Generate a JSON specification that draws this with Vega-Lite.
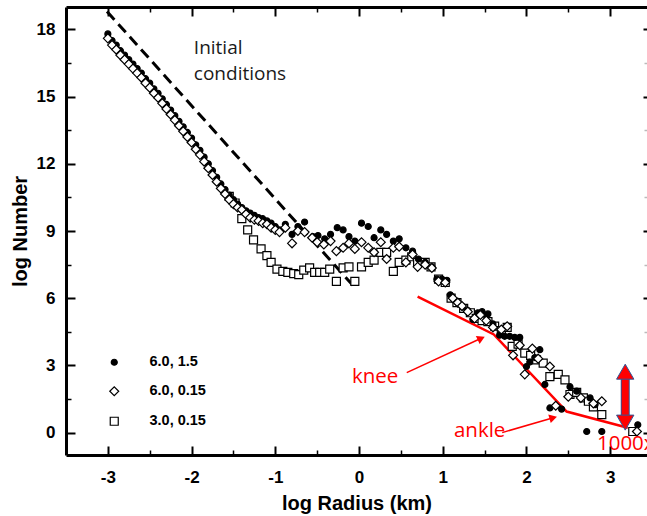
{
  "$schema": "https://vega.github.io/schema/vega-lite/v6.json",
  "autosize": {"type": "none"},
  "width": 581,
  "height": 448,
  "padding": {"left": 66, "top": 7, "right": 0, "bottom": 61},
  "background": "white",
  "config": {"view": {"stroke": null}, "font": "Liberation Sans"},
  "resolve": {"axis": {"x": "independent", "y": "independent"}},
  "datasets": {
    "pts": [
      {"s":"3.0, 0.15","x":-1.55,"y":10.55},{"s":"3.0, 0.15","x":-1.48,"y":10.25},{"s":"3.0, 0.15","x":-1.40,"y":9.55},{"s":"3.0, 0.15","x":-1.33,"y":9.05},{"s":"3.0, 0.15","x":-1.26,"y":8.60},{"s":"3.0, 0.15","x":-1.17,"y":8.20},{"s":"3.0, 0.15","x":-1.10,"y":7.90},{"s":"3.0, 0.15","x":-1.05,"y":7.60},{"s":"3.0, 0.15","x":-0.98,"y":7.30},{"s":"3.0, 0.15","x":-0.91,"y":7.20},{"s":"3.0, 0.15","x":-0.85,"y":7.15},{"s":"3.0, 0.15","x":-0.78,"y":7.10},{"s":"3.0, 0.15","x":-0.72,"y":7.05},{"s":"3.0, 0.15","x":-0.66,"y":7.25},{"s":"3.0, 0.15","x":-0.59,"y":7.35},{"s":"3.0, 0.15","x":-0.53,"y":7.15},{"s":"3.0, 0.15","x":-0.47,"y":7.15},{"s":"3.0, 0.15","x":-0.41,"y":7.15},{"s":"3.0, 0.15","x":-0.35,"y":7.30},{"s":"3.0, 0.15","x":-0.27,"y":6.75},{"s":"3.0, 0.15","x":-0.19,"y":7.35},{"s":"3.0, 0.15","x":-0.12,"y":7.40},{"s":"3.0, 0.15","x":-0.05,"y":6.75},{"s":"3.0, 0.15","x":0.03,"y":7.40},{"s":"3.0, 0.15","x":0.11,"y":7.60},{"s":"3.0, 0.15","x":0.18,"y":7.70},{"s":"3.0, 0.15","x":0.26,"y":8.05},{"s":"3.0, 0.15","x":0.33,"y":8.05},{"s":"3.0, 0.15","x":0.41,"y":7.20},{"s":"3.0, 0.15","x":0.48,"y":7.60},{"s":"3.0, 0.15","x":0.56,"y":7.70},{"s":"3.0, 0.15","x":0.63,"y":7.85},{"s":"3.0, 0.15","x":0.70,"y":7.60},{"s":"3.0, 0.15","x":0.79,"y":7.60},{"s":"3.0, 0.15","x":0.86,"y":7.40},{"s":"3.0, 0.15","x":0.95,"y":6.85},{"s":"3.0, 0.15","x":1.03,"y":6.70},{"s":"3.0, 0.15","x":1.10,"y":6.00},{"s":"3.0, 0.15","x":1.17,"y":5.80},{"s":"3.0, 0.15","x":1.25,"y":5.55},{"s":"3.0, 0.15","x":1.33,"y":5.35},{"s":"3.0, 0.15","x":1.40,"y":5.10},{"s":"3.0, 0.15","x":1.47,"y":5.00},{"s":"3.0, 0.15","x":1.54,"y":4.95},{"s":"3.0, 0.15","x":1.62,"y":4.75},{"s":"3.0, 0.15","x":1.70,"y":4.55},{"s":"3.0, 0.15","x":1.77,"y":4.70},{"s":"3.0, 0.15","x":1.83,"y":3.85},{"s":"3.0, 0.15","x":1.90,"y":3.95},{"s":"3.0, 0.15","x":1.98,"y":3.55},{"s":"3.0, 0.15","x":2.05,"y":3.45},{"s":"3.0, 0.15","x":2.12,"y":3.25},{"s":"3.0, 0.15","x":2.20,"y":3.10},{"s":"3.0, 0.15","x":2.28,"y":2.50},{"s":"3.0, 0.15","x":2.38,"y":2.60},{"s":"3.0, 0.15","x":2.46,"y":2.35},{"s":"3.0, 0.15","x":2.52,"y":1.70},{"s":"3.0, 0.15","x":2.60,"y":1.80},{"s":"3.0, 0.15","x":2.68,"y":1.55},{"s":"3.0, 0.15","x":2.74,"y":1.40},{"s":"3.0, 0.15","x":2.80,"y":1.15},{"s":"3.0, 0.15","x":2.90,"y":0.80},{"s":"3.0, 0.15","x":3.27,"y":0.05},
      {"s":"6.0, 1.5","x":-3.00,"y":17.80},{"s":"6.0, 1.5","x":-2.95,"y":17.50},{"s":"6.0, 1.5","x":-2.90,"y":17.30},{"s":"6.0, 1.5","x":-2.85,"y":17.05},{"s":"6.0, 1.5","x":-2.80,"y":16.85},{"s":"6.0, 1.5","x":-2.75,"y":16.65},{"s":"6.0, 1.5","x":-2.70,"y":16.45},{"s":"6.0, 1.5","x":-2.65,"y":16.25},{"s":"6.0, 1.5","x":-2.60,"y":16.05},{"s":"6.0, 1.5","x":-2.55,"y":15.80},{"s":"6.0, 1.5","x":-2.50,"y":15.60},{"s":"6.0, 1.5","x":-2.45,"y":15.35},{"s":"6.0, 1.5","x":-2.40,"y":15.15},{"s":"6.0, 1.5","x":-2.35,"y":14.90},{"s":"6.0, 1.5","x":-2.30,"y":14.65},{"s":"6.0, 1.5","x":-2.25,"y":14.40},{"s":"6.0, 1.5","x":-2.20,"y":14.15},{"s":"6.0, 1.5","x":-2.15,"y":13.90},{"s":"6.0, 1.5","x":-2.10,"y":13.65},{"s":"6.0, 1.5","x":-2.05,"y":13.40},{"s":"6.0, 1.5","x":-2.00,"y":13.15},{"s":"6.0, 1.5","x":-1.95,"y":12.85},{"s":"6.0, 1.5","x":-1.90,"y":12.60},{"s":"6.0, 1.5","x":-1.85,"y":12.30},{"s":"6.0, 1.5","x":-1.80,"y":12.00},{"s":"6.0, 1.5","x":-1.75,"y":11.70},{"s":"6.0, 1.5","x":-1.70,"y":11.40},{"s":"6.0, 1.5","x":-1.65,"y":11.10},{"s":"6.0, 1.5","x":-1.60,"y":10.85},{"s":"6.0, 1.5","x":-1.55,"y":10.60},{"s":"6.0, 1.5","x":-1.50,"y":10.40},{"s":"6.0, 1.5","x":-1.45,"y":10.20},{"s":"6.0, 1.5","x":-1.40,"y":10.05},{"s":"6.0, 1.5","x":-1.35,"y":9.90},{"s":"6.0, 1.5","x":-1.30,"y":9.80},{"s":"6.0, 1.5","x":-1.25,"y":9.70},{"s":"6.0, 1.5","x":-1.20,"y":9.60},{"s":"6.0, 1.5","x":-1.15,"y":9.55},{"s":"6.0, 1.5","x":-1.10,"y":9.45},{"s":"6.0, 1.5","x":-1.05,"y":9.35},{"s":"6.0, 1.5","x":-1.00,"y":9.20},{"s":"6.0, 1.5","x":-0.95,"y":9.05},{"s":"6.0, 1.5","x":-0.88,"y":9.30},{"s":"6.0, 1.5","x":-0.80,"y":8.85},{"s":"6.0, 1.5","x":-0.73,"y":9.20},{"s":"6.0, 1.5","x":-0.65,"y":9.40},{"s":"6.0, 1.5","x":-0.55,"y":8.75},{"s":"6.0, 1.5","x":-0.49,"y":8.80},{"s":"6.0, 1.5","x":-0.41,"y":8.65},{"s":"6.0, 1.5","x":-0.34,"y":8.85},{"s":"6.0, 1.5","x":-0.26,"y":9.15},{"s":"6.0, 1.5","x":-0.19,"y":9.05},{"s":"6.0, 1.5","x":-0.12,"y":8.75},{"s":"6.0, 1.5","x":-0.05,"y":8.55},{"s":"6.0, 1.5","x":0.03,"y":9.35},{"s":"6.0, 1.5","x":0.11,"y":9.20},{"s":"6.0, 1.5","x":0.18,"y":8.70},{"s":"6.0, 1.5","x":0.26,"y":9.05},{"s":"6.0, 1.5","x":0.33,"y":8.85},{"s":"6.0, 1.5","x":0.41,"y":8.55},{"s":"6.0, 1.5","x":0.48,"y":8.65},{"s":"6.0, 1.5","x":0.56,"y":8.25},{"s":"6.0, 1.5","x":0.64,"y":8.10},{"s":"6.0, 1.5","x":0.71,"y":7.75},{"s":"6.0, 1.5","x":0.79,"y":7.60},{"s":"6.0, 1.5","x":0.87,"y":7.40},{"s":"6.0, 1.5","x":0.93,"y":6.85},{"s":"6.0, 1.5","x":0.99,"y":6.85},{"s":"6.0, 1.5","x":1.05,"y":6.80},{"s":"6.0, 1.5","x":1.09,"y":6.15},{"s":"6.0, 1.5","x":1.13,"y":5.95},{"s":"6.0, 1.5","x":1.18,"y":5.80},{"s":"6.0, 1.5","x":1.24,"y":5.60},{"s":"6.0, 1.5","x":1.30,"y":5.45},{"s":"6.0, 1.5","x":1.36,"y":5.05},{"s":"6.0, 1.5","x":1.42,"y":5.35},{"s":"6.0, 1.5","x":1.47,"y":5.40},{"s":"6.0, 1.5","x":1.54,"y":5.30},{"s":"6.0, 1.5","x":1.60,"y":4.85},{"s":"6.0, 1.5","x":1.68,"y":4.35},{"s":"6.0, 1.5","x":1.74,"y":4.30},{"s":"6.0, 1.5","x":1.80,"y":4.30},{"s":"6.0, 1.5","x":1.86,"y":4.25},{"s":"6.0, 1.5","x":1.92,"y":4.25},{"s":"6.0, 1.5","x":2.00,"y":2.95},{"s":"6.0, 1.5","x":2.04,"y":3.15},{"s":"6.0, 1.5","x":2.10,"y":3.35},{"s":"6.0, 1.5","x":2.16,"y":3.70},{"s":"6.0, 1.5","x":2.22,"y":2.15},{"s":"6.0, 1.5","x":2.28,"y":1.10},{"s":"6.0, 1.5","x":2.42,"y":1.05},{"s":"6.0, 1.5","x":2.52,"y":2.05},{"s":"6.0, 1.5","x":2.60,"y":1.85},{"s":"6.0, 1.5","x":2.72,"y":0.05},{"s":"6.0, 1.5","x":2.76,"y":1.55},{"s":"6.0, 1.5","x":2.82,"y":1.25},{"s":"6.0, 1.5","x":2.90,"y":0.05},{"s":"6.0, 1.5","x":3.33,"y":0.35},
      {"s":"6.0, 0.15","x":-3.00,"y":17.60},{"s":"6.0, 0.15","x":-2.95,"y":17.30},{"s":"6.0, 0.15","x":-2.90,"y":17.10},{"s":"6.0, 0.15","x":-2.85,"y":16.85},{"s":"6.0, 0.15","x":-2.80,"y":16.65},{"s":"6.0, 0.15","x":-2.75,"y":16.45},{"s":"6.0, 0.15","x":-2.70,"y":16.25},{"s":"6.0, 0.15","x":-2.65,"y":16.05},{"s":"6.0, 0.15","x":-2.60,"y":15.85},{"s":"6.0, 0.15","x":-2.55,"y":15.60},{"s":"6.0, 0.15","x":-2.50,"y":15.40},{"s":"6.0, 0.15","x":-2.45,"y":15.15},{"s":"6.0, 0.15","x":-2.40,"y":14.95},{"s":"6.0, 0.15","x":-2.35,"y":14.70},{"s":"6.0, 0.15","x":-2.30,"y":14.45},{"s":"6.0, 0.15","x":-2.25,"y":14.20},{"s":"6.0, 0.15","x":-2.20,"y":13.95},{"s":"6.0, 0.15","x":-2.15,"y":13.70},{"s":"6.0, 0.15","x":-2.10,"y":13.45},{"s":"6.0, 0.15","x":-2.05,"y":13.20},{"s":"6.0, 0.15","x":-2.00,"y":12.95},{"s":"6.0, 0.15","x":-1.95,"y":12.65},{"s":"6.0, 0.15","x":-1.90,"y":12.40},{"s":"6.0, 0.15","x":-1.85,"y":12.10},{"s":"6.0, 0.15","x":-1.80,"y":11.80},{"s":"6.0, 0.15","x":-1.75,"y":11.50},{"s":"6.0, 0.15","x":-1.70,"y":11.20},{"s":"6.0, 0.15","x":-1.65,"y":10.90},{"s":"6.0, 0.15","x":-1.60,"y":10.65},{"s":"6.0, 0.15","x":-1.55,"y":10.40},{"s":"6.0, 0.15","x":-1.50,"y":10.20},{"s":"6.0, 0.15","x":-1.45,"y":10.05},{"s":"6.0, 0.15","x":-1.40,"y":9.95},{"s":"6.0, 0.15","x":-1.35,"y":9.75},{"s":"6.0, 0.15","x":-1.30,"y":9.60},{"s":"6.0, 0.15","x":-1.25,"y":9.50},{"s":"6.0, 0.15","x":-1.20,"y":9.45},{"s":"6.0, 0.15","x":-1.15,"y":9.35},{"s":"6.0, 0.15","x":-1.10,"y":9.30},{"s":"6.0, 0.15","x":-1.05,"y":9.15},{"s":"6.0, 0.15","x":-1.00,"y":9.05},{"s":"6.0, 0.15","x":-0.95,"y":8.95},{"s":"6.0, 0.15","x":-0.88,"y":9.15},{"s":"6.0, 0.15","x":-0.80,"y":8.45},{"s":"6.0, 0.15","x":-0.73,"y":9.00},{"s":"6.0, 0.15","x":-0.65,"y":8.95},{"s":"6.0, 0.15","x":-0.56,"y":8.70},{"s":"6.0, 0.15","x":-0.50,"y":8.50},{"s":"6.0, 0.15","x":-0.42,"y":8.40},{"s":"6.0, 0.15","x":-0.34,"y":8.55},{"s":"6.0, 0.15","x":-0.27,"y":8.10},{"s":"6.0, 0.15","x":-0.19,"y":8.25},{"s":"6.0, 0.15","x":-0.12,"y":8.45},{"s":"6.0, 0.15","x":-0.05,"y":8.20},{"s":"6.0, 0.15","x":0.03,"y":8.50},{"s":"6.0, 0.15","x":0.11,"y":8.25},{"s":"6.0, 0.15","x":0.18,"y":8.05},{"s":"6.0, 0.15","x":0.26,"y":8.50},{"s":"6.0, 0.15","x":0.33,"y":7.75},{"s":"6.0, 0.15","x":0.41,"y":8.25},{"s":"6.0, 0.15","x":0.48,"y":8.30},{"s":"6.0, 0.15","x":0.56,"y":7.60},{"s":"6.0, 0.15","x":0.64,"y":7.95},{"s":"6.0, 0.15","x":0.70,"y":7.40},{"s":"6.0, 0.15","x":0.79,"y":7.50},{"s":"6.0, 0.15","x":0.87,"y":7.35},{"s":"6.0, 0.15","x":0.95,"y":6.75},{"s":"6.0, 0.15","x":1.03,"y":6.70},{"s":"6.0, 0.15","x":1.12,"y":6.00},{"s":"6.0, 0.15","x":1.18,"y":5.80},{"s":"6.0, 0.15","x":1.23,"y":5.65},{"s":"6.0, 0.15","x":1.30,"y":5.40},{"s":"6.0, 0.15","x":1.38,"y":5.10},{"s":"6.0, 0.15","x":1.45,"y":5.25},{"s":"6.0, 0.15","x":1.52,"y":5.00},{"s":"6.0, 0.15","x":1.60,"y":4.70},{"s":"6.0, 0.15","x":1.70,"y":4.60},{"s":"6.0, 0.15","x":1.77,"y":4.75},{"s":"6.0, 0.15","x":1.84,"y":3.45},{"s":"6.0, 0.15","x":1.92,"y":3.90},{"s":"6.0, 0.15","x":1.98,"y":2.60},{"s":"6.0, 0.15","x":2.07,"y":3.75},{"s":"6.0, 0.15","x":2.14,"y":3.30},{"s":"6.0, 0.15","x":2.28,"y":2.95},{"s":"6.0, 0.15","x":2.35,"y":1.20},{"s":"6.0, 0.15","x":2.50,"y":1.60},{"s":"6.0, 0.15","x":2.65,"y":1.55},{"s":"6.0, 0.15","x":2.80,"y":1.30},{"s":"6.0, 0.15","x":2.90,"y":1.40},{"s":"6.0, 0.15","x":3.32,"y":0.05}
    ],
    "dash": [{"x": -3.01, "y": 18.8}, {"x": -0.07, "y": 6.56}],
    "red": [{"x": 0.70, "y": 6.07}, {"x": 1.61, "y": 4.38}, {"x": 2.48, "y": 0.94}, {"x": 3.21, "y": 0.22}],
    "shafts": [{"x": 0.57, "y": 2.68, "x2": 1.46, "y2": 4.21}, {"x": 1.71, "y": 0.0, "x2": 2.32, "y2": 0.665}],
    "kneehead": [{"x": 1.46, "y": 4.21}],
    "anklehead": [{"x": 2.32, "y": 0.665}],
    "bar": [{"x": 3.18, "y": 0.49, "y2": 2.455}],
    "uphead": [{"x": 3.18, "y": 2.72}],
    "downhead": [{"x": 3.18, "y": 0.446}],
    "redtext": [{"x": -0.085, "y": 2.23, "t": "knee"}, {"x": 1.134, "y": -0.18, "t": "ankle"}, {"x": 2.842, "y": -0.76, "t": "1000x"}],
    "blacktext": [{"x": -1.973, "y": 16.92, "t": "Initial"}, {"x": -1.973, "y": 15.76, "t": "conditions"}]
  },
  "layer": [
    {
      "data": {"name": "dash"},
      "mark": {"type": "line", "color": "black", "strokeWidth": 3, "strokeDash": [11, 6]},
      "encoding": {
        "x": {"field": "x", "type": "quantitative", "scale": {"domain": [-3.5, 3.44], "nice": false, "zero": false},
          "axis": {"orient": "top", "values": [-3, -2, -1, 0, 1, 2, 3], "labels": false, "title": null, "grid": false, "tickSize": -9, "tickWidth": 2, "tickColor": "black", "domainWidth": 3, "domainColor": "black"}},
        "y": {"field": "y", "type": "quantitative", "scale": {"domain": [-1, 19], "nice": false, "zero": false},
          "axis": {"orient": "right", "values": [0, 3, 6, 9, 12, 15, 18], "labels": false, "title": null, "grid": false, "domain": false, "tickSize": -4, "tickWidth": 2, "tickColor": "black"}}
      }
    },
    {
      "data": {"name": "red"},
      "mark": {"type": "line", "color": "#ff0000", "strokeWidth": 2.5},
      "encoding": {
        "x": {"field": "x", "type": "quantitative", "scale": {"domain": [-3.5, 3.44], "nice": false, "zero": false},
          "axis": {"orient": "bottom", "values": [-2.5, -1.5, -0.5, 0.5, 1.5, 2.5], "labels": false, "title": null, "grid": false, "domain": false, "tickSize": -5, "tickWidth": 1.5, "tickColor": "black"}},
        "y": {"field": "y", "type": "quantitative", "scale": {"domain": [-1, 19], "nice": false, "zero": false},
          "axis": {"orient": "left", "values": [1.5, 4.5, 7.5, 10.5, 13.5, 16.5], "labels": false, "title": null, "grid": false, "domain": false, "tickSize": -5, "tickWidth": 1.5, "tickColor": "black"}}
      }
    },
    {
      "data": {"name": "shafts"},
      "mark": {"type": "rule", "color": "#ff0000", "strokeWidth": 1.5},
      "encoding": {
        "x": {"field": "x", "type": "quantitative", "scale": {"domain": [-3.5, 3.44], "nice": false, "zero": false},
          "axis": {"orient": "top", "values": [-2.5, -1.5, -0.5, 0.5, 1.5, 2.5], "labels": false, "title": null, "grid": false, "domain": false, "tickSize": -5, "tickWidth": 1.5, "tickColor": "black"}},
        "y": {"field": "y", "type": "quantitative", "scale": {"domain": [-1, 19], "nice": false, "zero": false},
          "axis": {"orient": "right", "values": [1.5, 4.5, 7.5, 10.5, 13.5, 16.5], "labels": false, "title": null, "grid": false, "domain": false, "tickSize": -3, "tickWidth": 1.5, "tickColor": "#bbbbbb"}},
        "x2": {"field": "x2"},
        "y2": {"field": "y2"}
      }
    },
    {
      "data": {"name": "kneehead"},
      "mark": {"type": "point", "shape": "triangle-up", "filled": true, "color": "#ff0000", "opacity": 1, "size": 80, "angle": 65},
      "encoding": {
        "x": {"field": "x", "type": "quantitative", "scale": {"domain": [-3.5, 3.44], "nice": false, "zero": false}, "axis": null},
        "y": {"field": "y", "type": "quantitative", "scale": {"domain": [-1, 19], "nice": false, "zero": false}, "axis": null}
      }
    },
    {
      "data": {"name": "anklehead"},
      "mark": {"type": "point", "shape": "triangle-up", "filled": true, "color": "#ff0000", "opacity": 1, "size": 80, "angle": 74},
      "encoding": {
        "x": {"field": "x", "type": "quantitative", "scale": {"domain": [-3.5, 3.44], "nice": false, "zero": false}, "axis": null},
        "y": {"field": "y", "type": "quantitative", "scale": {"domain": [-1, 19], "nice": false, "zero": false}, "axis": null}
      }
    },
    {
      "data": {"name": "bar"},
      "mark": {"type": "rule", "color": "#2f5597", "strokeWidth": 9},
      "encoding": {
        "x": {"field": "x", "type": "quantitative", "scale": {"domain": [-3.5, 3.44], "nice": false, "zero": false}, "axis": null},
        "y": {"field": "y", "type": "quantitative", "scale": {"domain": [-1, 19], "nice": false, "zero": false}, "axis": null},
        "y2": {"field": "y2"}
      }
    },
    {
      "data": {"name": "bar"},
      "mark": {"type": "rule", "color": "#ff0000", "strokeWidth": 7},
      "encoding": {
        "x": {"field": "x", "type": "quantitative", "scale": {"domain": [-3.5, 3.44], "nice": false, "zero": false}, "axis": null},
        "y": {"field": "y", "type": "quantitative", "scale": {"domain": [-1, 19], "nice": false, "zero": false}, "axis": null},
        "y2": {"field": "y2"}
      }
    },
    {
      "data": {"name": "uphead"},
      "mark": {"type": "point", "shape": "triangle-up", "filled": true, "fill": "#ff0000", "stroke": "#2f5597", "strokeWidth": 1, "opacity": 1, "size": 300},
      "encoding": {
        "x": {"field": "x", "type": "quantitative", "scale": {"domain": [-3.5, 3.44], "nice": false, "zero": false}, "axis": null},
        "y": {"field": "y", "type": "quantitative", "scale": {"domain": [-1, 19], "nice": false, "zero": false}, "axis": null}
      }
    },
    {
      "data": {"name": "downhead"},
      "mark": {"type": "point", "shape": "triangle-down", "filled": true, "fill": "#ff0000", "stroke": "#2f5597", "strokeWidth": 1, "opacity": 1, "size": 300},
      "encoding": {
        "x": {"field": "x", "type": "quantitative", "scale": {"domain": [-3.5, 3.44], "nice": false, "zero": false}, "axis": null},
        "y": {"field": "y", "type": "quantitative", "scale": {"domain": [-1, 19], "nice": false, "zero": false}, "axis": null}
      }
    },
    {
      "data": {"name": "pts"},
      "mark": {"type": "point", "filled": true, "stroke": "black", "strokeWidth": 1.2, "opacity": 1},
      "encoding": {
        "x": {"field": "x", "type": "quantitative", "scale": {"domain": [-3.5, 3.44], "nice": false, "zero": false},
          "axis": {"orient": "bottom", "values": [-3, -2, -1, 0, 1, 2, 3], "title": "log Radius (km)", "grid": false,
            "tickSize": -9, "tickWidth": 2, "tickColor": "black", "domainWidth": 3, "domainColor": "black",
            "labelPadding": 23, "labelFont": "Liberation Sans", "labelFontWeight": "bold", "labelFontSize": 17, "labelColor": "black",
            "labelExpr": "replace(datum.label, '\u2212', '-')", "labelFlush": false, "labelOverlap": false,
            "titleFont": "Liberation Sans", "titleFontWeight": "bold", "titleFontSize": 20, "titleColor": "black", "titlePadding": 8}},
        "y": {"field": "y", "type": "quantitative", "scale": {"domain": [-1, 19], "nice": false, "zero": false},
          "axis": {"orient": "left", "values": [0, 3, 6, 9, 12, 15, 18], "title": "log Number", "grid": false,
            "tickSize": -9, "tickWidth": 2, "tickColor": "black", "domainWidth": 3, "domainColor": "black",
            "labelPadding": 20, "labelFont": "Liberation Sans", "labelFontWeight": "bold", "labelFontSize": 17, "labelColor": "black",
            "labelFlush": false, "labelOverlap": false,
            "titleFont": "Liberation Sans", "titleFontWeight": "bold", "titleFontSize": 20, "titleColor": "black", "titlePadding": 6}},
        "shape": {"field": "s", "type": "nominal", "scale": {"domain": ["6.0, 1.5", "6.0, 0.15", "3.0, 0.15"], "range": ["circle", "diamond", "square"]},
          "legend": {"orient": "none", "legendX": 41, "legendY": 348, "title": null, "labelFont": "Liberation Sans", "labelFontWeight": "bold", "labelFontSize": 14.5, "labelColor": "black", "labelOffset": 28, "rowPadding": 14, "symbolStrokeColor": "black", "symbolStrokeWidth": 1.2, "padding": 0}},
        "fill": {"field": "s", "type": "nominal", "scale": {"domain": ["6.0, 1.5", "6.0, 0.15", "3.0, 0.15"], "range": ["black", "white", "white"]}},
        "size": {"field": "s", "type": "ordinal", "scale": {"type": "ordinal", "domain": ["6.0, 1.5", "6.0, 0.15", "3.0, 0.15"], "range": [36, 80, 64]}}
      }
    },
    {
      "data": {"name": "redtext"},
      "mark": {"type": "text", "color": "#ff0000", "font": "Open Sans", "fontSize": 20.5, "align": "left", "baseline": "alphabetic"},
      "encoding": {
        "x": {"field": "x", "type": "quantitative", "scale": {"domain": [-3.5, 3.44], "nice": false, "zero": false}, "axis": null},
        "y": {"field": "y", "type": "quantitative", "scale": {"domain": [-1, 19], "nice": false, "zero": false}, "axis": null},
        "text": {"field": "t"}
      }
    },
    {
      "data": {"name": "blacktext"},
      "mark": {"type": "text", "color": "#1a1a1a", "font": "Open Sans", "fontSize": 19, "align": "left", "baseline": "alphabetic"},
      "encoding": {
        "x": {"field": "x", "type": "quantitative", "scale": {"domain": [-3.5, 3.44], "nice": false, "zero": false}, "axis": null},
        "y": {"field": "y", "type": "quantitative", "scale": {"domain": [-1, 19], "nice": false, "zero": false}, "axis": null},
        "text": {"field": "t"}
      }
    }
  ]
}
